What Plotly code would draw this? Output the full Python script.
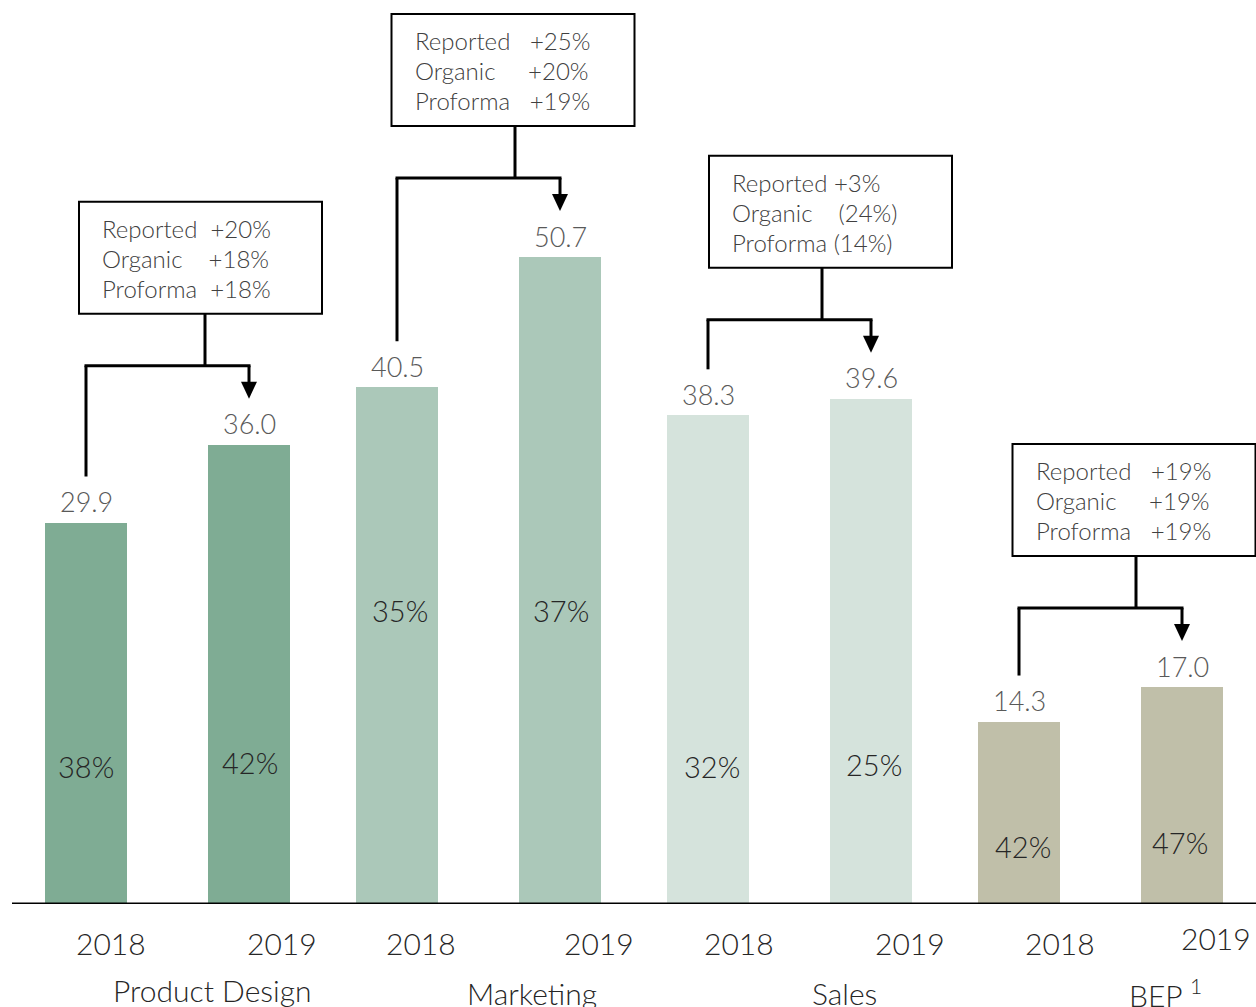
import plotly.graph_objects as go

# ---- data -------------------------------------------------------------
groups = ["Product Design", "Marketing", "Sales", "BEP <sup>1</sup>"]
years = ["2018", "2019"]
revenue = [29.9, 36.0, 40.5, 50.7, 38.3, 39.6, 14.3, 17.0]
share_labels = ["38%", "42%", "35%", "37%", "32%", "25%", "42%", "47%"]
growth_text = [
    ["Reported  +20%", "Organic    +18%", "Proforma  +18%"],
    ["Reported   +25%", "Organic     +20%", "Proforma   +19%"],
    ["Reported +3%", "Organic    (24%)", "Proforma (14%)"],
    ["Reported   +19%", "Organic     +19%", "Proforma   +19%"],
]

# ---- styling / layout -------------------------------------------------
group_colors = ["#7fac94", "#abc8b9", "#d5e3dc", "#c0bfa9"]
FONT = "Lato"
W, H = 1256, 1007
BASE_PX = 904                      # pixel row of the baseline
Y_TOP = 70.85                      # value shown at the top of the plot area
PPU = BASE_PX / Y_TOP              # pixels per value unit


def px(n):
    return n / PPU


bar_x = [86 + g * 311 + k * 163 for g in range(4) for k in range(2)]
bar_w = 82
share_y = [10.8, 11.1, 23.0, 23.0, 10.8, 10.9, 4.5, 4.8]
share_xshift = [0, 1, 3, 1, 4, 3, 4, -2]
year_shift = [25, 33, 24, 39, 31, 39, 41, 34]
year_yshift = [0, 0, 0, 0, 0, 0, 0, 5]
group_shift = [45, 53, 55, 65]
group_yshift = [3, 0, 0, 0]
box_shift = [33, 34.5, 41, 33.5]   # box centre relative to group centre
stem_shift = [37.5, 36.5, 32.5, 35.5]

fig = go.Figure()
fig.add_trace(go.Bar(
    x=bar_x,
    y=revenue,
    width=bar_w,
    marker=dict(color=[group_colors[i // 2] for i in range(8)], line=dict(width=0)),
    hoverinfo="skip",
    showlegend=False,
))

ann = []
shapes = []

# value labels above bars and share labels inside bars
for i, v in enumerate(revenue):
    ann.append(dict(x=bar_x[i], y=v, yshift=21, text=f"{v:.1f}", showarrow=False,
                    xanchor="center", yanchor="middle",
                    font=dict(family=FONT, size=27, color="#595959", weight=300)))
    ann.append(dict(x=bar_x[i] + share_xshift[i], y=share_y[i], text=share_labels[i],
                    showarrow=False, xanchor="center", yanchor="middle",
                    font=dict(family=FONT, size=29, color="#262626", weight=300)))
    ann.append(dict(x=bar_x[i] + year_shift[i], y=0, yref="y", yshift=-39 + year_yshift[i],
                    text=years[i % 2], showarrow=False, xanchor="center", yanchor="middle",
                    font=dict(family=FONT, size=30, color="#262626", weight=300)))

for g, name in enumerate(groups):
    gc = (bar_x[2 * g] + bar_x[2 * g + 1]) / 2
    ann.append(dict(x=gc + group_shift[g], y=0, yshift=-89 + group_yshift[g], text=name,
                    showarrow=False, xanchor="center", yanchor="middle",
                    font=dict(family=FONT, size=30, color="#262626", weight=300)))

# growth brackets and boxes
LINE = dict(color="black", width=3)
for g in range(4):
    xa, xb = bar_x[2 * g], bar_x[2 * g + 1]
    va, vb = revenue[2 * g], revenue[2 * g + 1]
    gc = (xa + xb) / 2
    h = max(va, vb) + px(79)
    stem_x = gc + stem_shift[g]
    box_c = gc + box_shift[g]
    box_bot = h + px(52)
    box_top = h + px(164)
    tip = vb + px(46)
    shapes += [
        dict(type="line", x0=xa, x1=xa, y0=va + px(46), y1=h, line=LINE),
        dict(type="line", x0=xa - 1.5, x1=xb + 1.5, y0=h, y1=h, line=LINE),
        dict(type="line", x0=xb, x1=xb, y0=h, y1=tip + px(14), line=LINE),
        dict(type="path",
             path=f"M {xb - 8} {tip + px(17)} L {xb + 8} {tip + px(17)} L {xb} {tip} Z",
             fillcolor="black", line=dict(width=0)),
        dict(type="line", x0=stem_x, x1=stem_x, y0=h, y1=box_bot, line=LINE),
        dict(type="rect", x0=box_c - 121.5, x1=box_c + 121.5, y0=box_bot, y1=box_top,
             line=dict(color="black", width=2), fillcolor="white"),
    ]
    for j, line in enumerate(growth_text[g]):
        ann.append(dict(x=box_c - 121.5 + 21, y=box_top - px(26.5 + 30 * j),
                        text=line.replace(" ", "\u00a0"), showarrow=False,
                        xanchor="left", yanchor="middle",
                        font=dict(family=FONT, size=24, color="#404040", weight=300)))

# baseline
shapes.append(dict(type="line", x0=12, x1=W, y0=0, y1=0, line=dict(color="black", width=3)))

fig.update_layout(
    width=W, height=H,
    margin=dict(l=0, r=0, t=0, b=H - BASE_PX),
    paper_bgcolor="white", plot_bgcolor="white",
    xaxis=dict(range=[0, W], visible=False, fixedrange=True),
    yaxis=dict(range=[0, Y_TOP], visible=False, fixedrange=True),
    shapes=shapes,
    annotations=ann,
    bargap=0,
)

fig.write_html("out.html", config=dict(displayModeBar=False))
